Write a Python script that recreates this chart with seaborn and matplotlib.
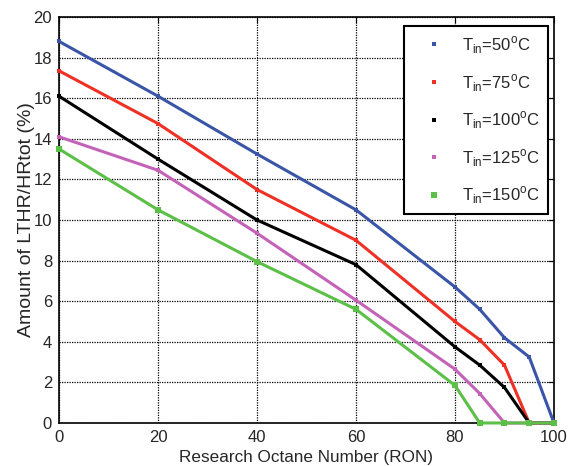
import matplotlib
matplotlib.use("Agg")
import matplotlib.pyplot as plt
import seaborn as sns
import pandas as pd
from matplotlib.lines import Line2D

ron = [0, 20, 40, 60, 80, 85, 90, 95, 100]
t50 = [18.8, 16.1, 13.25, 10.5, 6.7, 5.6, 4.2, 3.25, 0.0]
t75 = [17.35, 14.75, 11.5, 9.0, 5.0, 4.1, 2.85, 0.0, 0.0]
t100 = [16.1, 13.0, 10.0, 7.8, 3.75, 2.85, 1.75, 0.0, 0.0]
t125 = [14.1, 12.45, 9.35, 6.05, 2.65, 1.45, 0.0, 0.0, 0.0]
t150 = [13.5, 10.5, 7.95, 5.6, 1.85, 0.0, 0.0, 0.0, 0.0]

labels = [r"T$_{\rm in}$=50$^{\rm o}$C", r"T$_{\rm in}$=75$^{\rm o}$C",
          r"T$_{\rm in}$=100$^{\rm o}$C", r"T$_{\rm in}$=125$^{\rm o}$C",
          r"T$_{\rm in}$=150$^{\rm o}$C"]
series = [t50, t75, t100, t125, t150]
colors = ["#3a55a8", "#ee3124", "#000000", "#c462b8", "#5cbf47"]
msizes = [2.5, 2.5, 2.5, 2.5, 5]

sns.set_style("white")
plt.rcParams["font.family"] = ["Liberation Sans", "DejaVu Sans"]
plt.rcParams["mathtext.fontset"] = "custom"
plt.rcParams["mathtext.rm"] = "Liberation Sans"

fig = plt.figure(figsize=(5.69, 4.66), dpi=100)
ax = fig.add_axes([0.1037, 0.0923, 0.8699, 0.8712])

for vals, lab, c, ms in zip(series, labels, colors, msizes):
    df = pd.DataFrame({"RON": ron, "val": vals})
    sns.lineplot(data=df, x="RON", y="val", ax=ax, color=c, linewidth=2.2,
                 marker="s", markersize=ms, markeredgewidth=0, legend=False,
                 clip_on=False, zorder=3)

ax.set_xlim(0, 100)
ax.set_ylim(0, 20)
ax.set_xticks(range(0, 101, 20))
ax.set_yticks(range(0, 21, 2))
ax.tick_params(axis="both", direction="in", length=4, labelsize=12,
               top=True, right=True, color="black", pad=5)
ax.grid(True, color="black", linestyle=(0, (1, 1)), linewidth=0.9)
for s in ax.spines.values():
    s.set_color("black")
    s.set_linewidth(1.2)
ax.set_xlabel("Research Octane Number (RON)", fontsize=12.3, labelpad=4)
ax.set_ylabel("Amount of LTHR/HRtot (%)", fontsize=14, labelpad=-1)

handles = [Line2D([], [], linestyle="none", marker="s", color=c,
                  markersize=(2.5 if ms < 4 else 5), markeredgewidth=0)
           for c, ms in zip(colors, msizes)]
leg = ax.legend(handles, labels, loc="upper right", bbox_to_anchor=(0.988, 0.978),
                borderaxespad=0, fontsize=12, frameon=True, fancybox=False,
                framealpha=1, edgecolor="black", labelspacing=0.95,
                handletextpad=0.3, borderpad=0.5, handlelength=2.7)
leg.get_frame().set_linewidth(1.5)
leg.set_zorder(5)

fig.savefig("out.png", dpi=100)
